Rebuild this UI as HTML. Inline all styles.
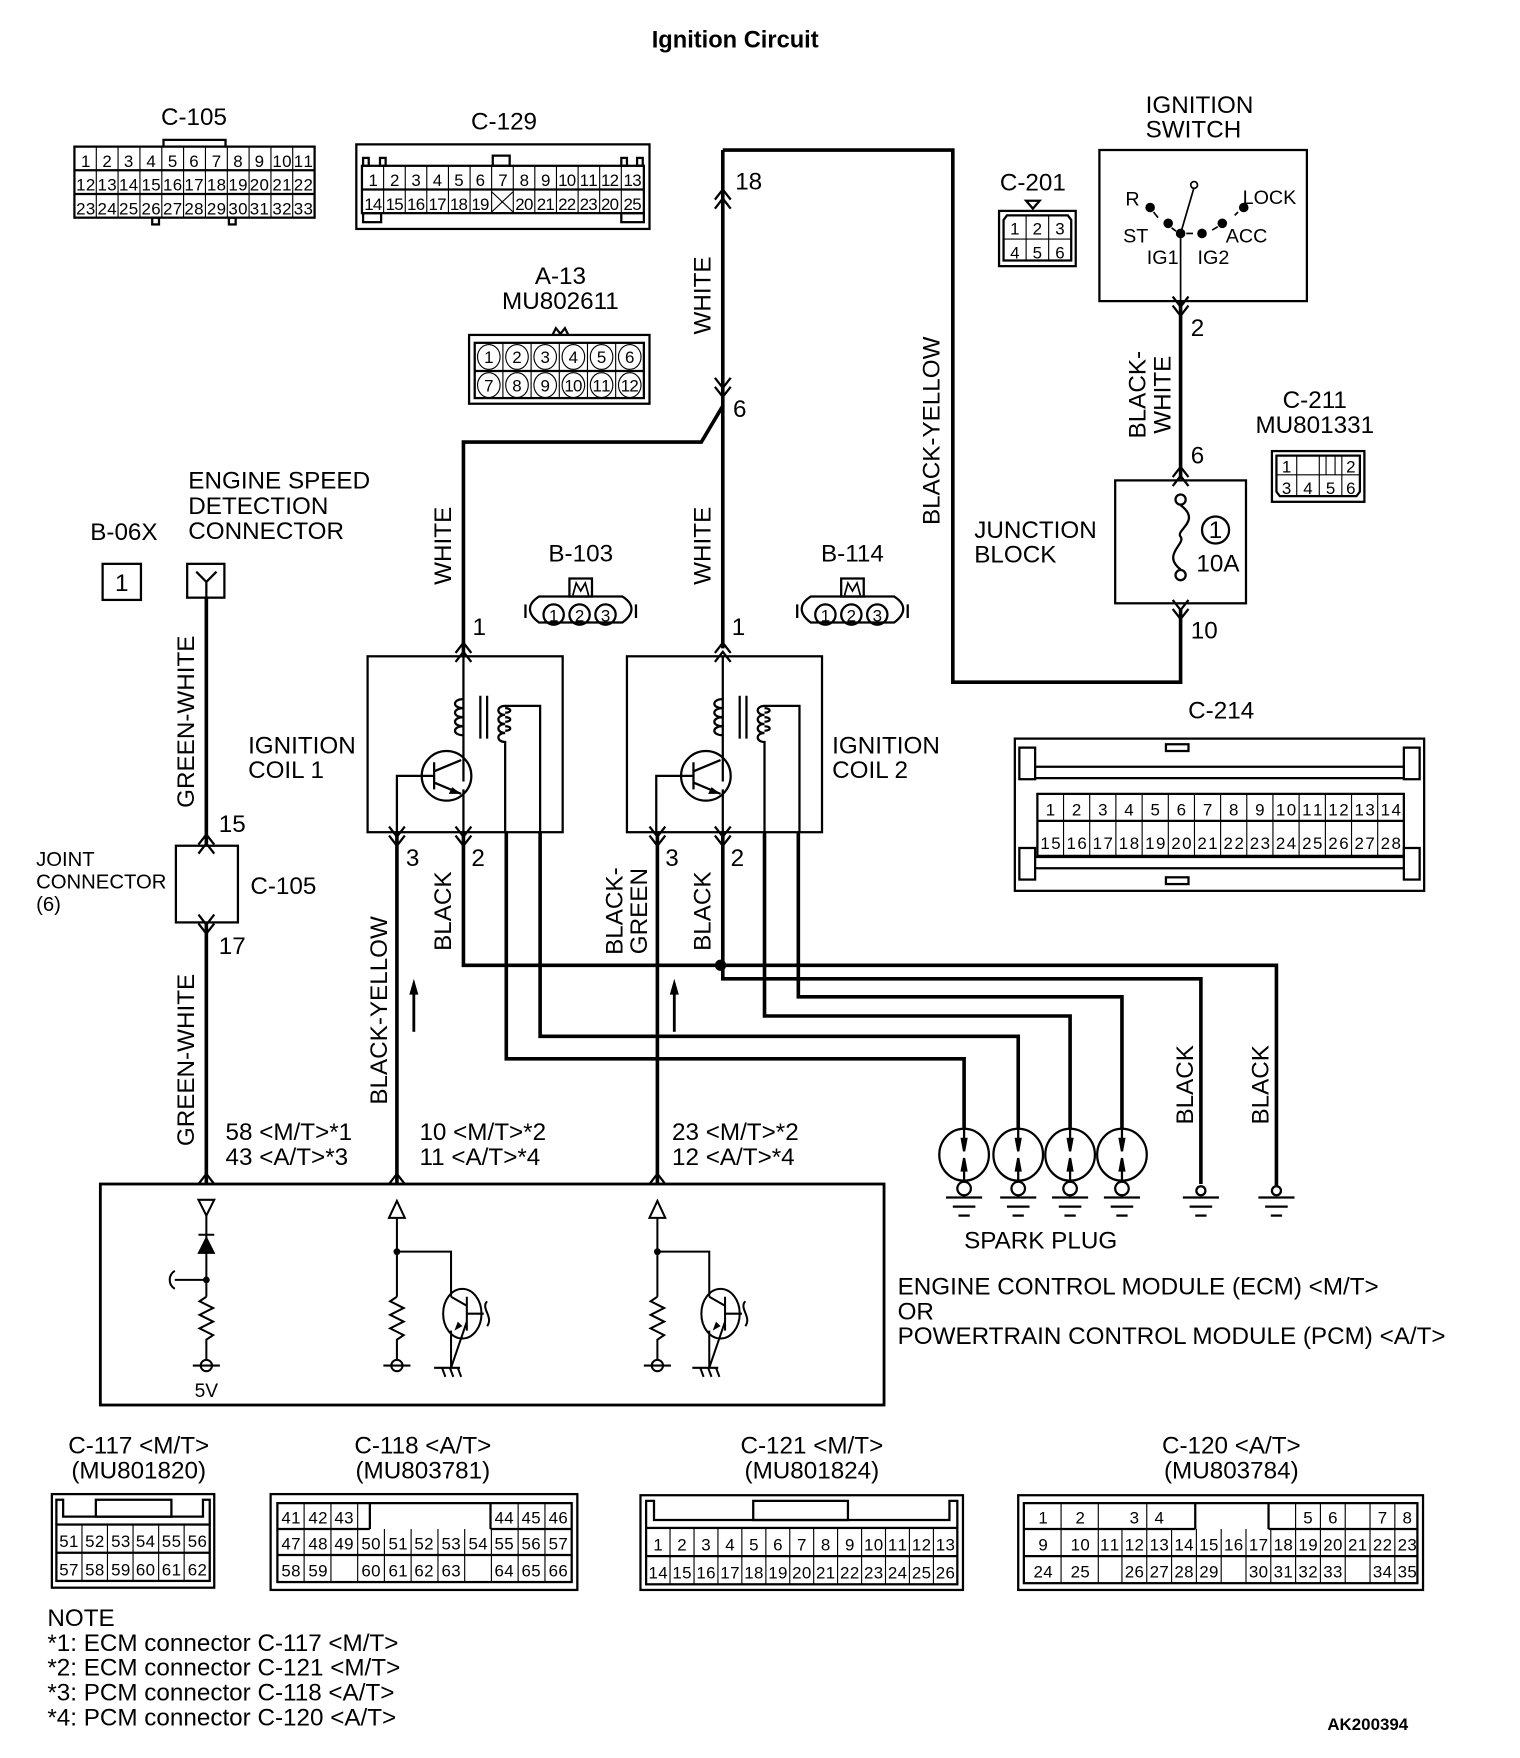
<!DOCTYPE html>
<html><head><meta charset="utf-8"><style>
html,body{margin:0;padding:0;background:#fff;}
svg{display:block;}
text{font-family:"Liberation Sans",Arial,sans-serif;fill:#000;}
.l{font-size:21.5px;}
.n{font-size:15px;text-anchor:middle;}
.s{font-size:17.5px;}
</style></head><body>
<svg width="1520" height="1758" viewBox="0 0 1348 1559" xmlns="http://www.w3.org/2000/svg">
<defs>
<g id="cu" fill="none" stroke="#000" stroke-width="2"><polyline points="-7,9 0,0 7,9"/><polyline points="-7,17 0,8 7,17"/></g>
<g id="cd" fill="none" stroke="#000" stroke-width="2"><polyline points="-7,-9 0,0 7,-9"/><polyline points="-7,-17 0,-8 7,-17"/></g>
<g id="gnd" stroke="#000" stroke-width="2" fill="none"><line x1="-16" y1="0" x2="16" y2="0"/><line x1="-10" y1="8" x2="10" y2="8"/><line x1="-5" y1="16" x2="5" y2="16"/></g>
<g id="plug" stroke="#000" stroke-width="2" fill="#fff"><ellipse cx="0" cy="0" rx="22" ry="23"/><path d="M0,-23 V-5 M0,23 V5" /><path d="M-2,-14 L0,-3 L2,-14Z M-2,14 L0,3 L2,14Z" fill="#000"/><ellipse cx="0" cy="30" rx="6" ry="6"/><line x1="0" y1="36" x2="0" y2="38"/><line x1="-16" y1="38" x2="16" y2="38"/><line x1="-10" y1="46" x2="10" y2="46"/><line x1="-5" y1="54" x2="5" y2="54"/></g>
</defs>

<text x="652" y="42" font-size="21" font-weight="bold" text-anchor="middle">Ignition  Circuit</text>

<!-- C-105 top -->
<text class="l" x="172" y="111" text-anchor="middle">C-105</text>
<g stroke="#000" stroke-width="2" fill="none">
<rect x="66" y="130" width="213" height="63"/>
<path d="M145,130 V124 H200 V130"/>
<rect x="135" y="193" width="6" height="6"/><rect x="203" y="193" width="6" height="6"/>
<line x1="66" y1="151" x2="279" y2="151"/><line x1="66" y1="172" x2="279" y2="172"/>
</g>
<g stroke="#000" stroke-width="1">
<path d="M85.4,130V193M104.7,130V193M124.1,130V193M143.5,130V193M162.8,130V193M182.2,130V193M201.6,130V193M220.9,130V193M240.3,130V193M259.6,130V193"/>
</g>
<g class="n">
<text x="76" y="148">1</text><text x="95" y="148">2</text><text x="114" y="148">3</text><text x="134" y="148">4</text><text x="153" y="148">5</text><text x="172" y="148">6</text><text x="192" y="148">7</text><text x="211" y="148">8</text><text x="230" y="148">9</text><text x="250" y="148" textLength="17">10</text><text x="269" y="148" textLength="17">11</text>
<text x="76" y="169" textLength="17">12</text><text x="95" y="169" textLength="17">13</text><text x="114" y="169" textLength="17">14</text><text x="134" y="169" textLength="17">15</text><text x="153" y="169" textLength="17">16</text><text x="172" y="169" textLength="17">17</text><text x="192" y="169" textLength="17">18</text><text x="211" y="169" textLength="17">19</text><text x="230" y="169" textLength="17">20</text><text x="250" y="169" textLength="17">21</text><text x="269" y="169" textLength="17">22</text>
<text x="76" y="190" textLength="17">23</text><text x="95" y="190" textLength="17">24</text><text x="114" y="190" textLength="17">25</text><text x="134" y="190" textLength="17">26</text><text x="153" y="190" textLength="17">27</text><text x="172" y="190" textLength="17">28</text><text x="192" y="190" textLength="17">29</text><text x="211" y="190" textLength="17">30</text><text x="230" y="190" textLength="17">31</text><text x="250" y="190" textLength="17">32</text><text x="269" y="190" textLength="17">33</text>
</g>

<!-- C-129 -->
<text class="l" x="447" y="115" text-anchor="middle">C-129</text>
<g stroke="#000" stroke-width="2" fill="none">
<rect x="316" y="128" width="260" height="75"/>
<rect x="321" y="147" width="250" height="42"/>
<line x1="321" y1="168" x2="571" y2="168"/>
<rect x="437" y="138" width="15" height="9"/>
<rect x="322" y="189" width="16" height="8"/><rect x="551" y="189" width="20" height="8"/>
<rect x="322" y="140" width="5" height="7"/><rect x="337" y="140" width="5" height="7"/><rect x="551" y="140" width="5" height="7"/><rect x="565" y="140" width="5" height="7"/>
</g>
<g stroke="#000" stroke-width="1">
<path d="M340.2,147V189M359.4,147V189M378.5,147V189M397.7,147V189M416.9,147V189M436,147V189M455.2,147V189M474.3,147V189M493.5,147V189M512.7,147V189M531.8,147V189M551,147V189"/>
<path d="M436,170 L455,188 M455,170 L436,188"/>
</g>
<g class="n">
<text x="331" y="165">1</text><text x="350" y="165">2</text><text x="369" y="165">3</text><text x="388" y="165">4</text><text x="407" y="165">5</text><text x="426" y="165">6</text><text x="446" y="165">7</text><text x="465" y="165">8</text><text x="484" y="165">9</text><text x="503" y="165" textLength="16">10</text><text x="522" y="165" textLength="16">11</text><text x="541" y="165" textLength="16">12</text><text x="561" y="165" textLength="16">13</text>
<text x="331" y="186" textLength="16">14</text><text x="350" y="186" textLength="16">15</text><text x="369" y="186" textLength="16">16</text><text x="388" y="186" textLength="16">17</text><text x="407" y="186" textLength="16">18</text><text x="426" y="186" textLength="16">19</text><text x="465" y="186" textLength="16">20</text><text x="484" y="186" textLength="16">21</text><text x="503" y="186" textLength="16">22</text><text x="522" y="186" textLength="16">23</text><text x="541" y="186" textLength="16">20</text><text x="561" y="186" textLength="16">25</text>
</g>

<!-- A-13 -->
<text class="l" x="497" y="252" text-anchor="middle">A-13</text>
<text class="l" x="497" y="274" text-anchor="middle">MU802611</text>
<g stroke="#000" stroke-width="2" fill="none">
<path d="M490,297 L493,291 L497,296 L501,291 L504,297"/>
<rect x="416" y="297" width="160" height="61"/>
<rect x="421" y="304" width="150" height="49"/>
<line x1="421" y1="329" x2="571" y2="329"/>
</g>
<g stroke="#000" stroke-width="1" fill="none">
<path d="M446,304V353M471,304V353M496,304V353M521,304V353M546,304V353"/>
<ellipse cx="433.5" cy="316.5" rx="10" ry="11"/><ellipse cx="458.5" cy="316.5" rx="10" ry="11"/><ellipse cx="483.5" cy="316.5" rx="10" ry="11"/><ellipse cx="508.5" cy="316.5" rx="10" ry="11"/><ellipse cx="533.5" cy="316.5" rx="10" ry="11"/><ellipse cx="558.5" cy="316.5" rx="10" ry="11"/>
<ellipse cx="433.5" cy="341.5" rx="10" ry="11"/><ellipse cx="458.5" cy="341.5" rx="10" ry="11"/><ellipse cx="483.5" cy="341.5" rx="10" ry="11"/><ellipse cx="508.5" cy="341.5" rx="10" ry="11"/><ellipse cx="533.5" cy="341.5" rx="10" ry="11"/><ellipse cx="558.5" cy="341.5" rx="10" ry="11"/>
</g>
<g class="n" font-size="17">
<text x="433.5" y="322">1</text><text x="458.5" y="322">2</text><text x="483.5" y="322">3</text><text x="508.5" y="322">4</text><text x="533.5" y="322">5</text><text x="558.5" y="322">6</text>
<text x="433.5" y="347">7</text><text x="458.5" y="347">8</text><text x="483.5" y="347">9</text><text x="508.5" y="347" textLength="16">10</text><text x="533.5" y="347" textLength="16">11</text><text x="558.5" y="347" textLength="16">12</text>
</g>

<!-- main wires -->
<g stroke="#000" stroke-width="3.2" fill="none">
<path d="M641,133 H845 V605 H1047 V540"/>
<path d="M641,133 V575"/>
<path d="M641,360 L622,392 H411 V582"/>
<path d="M1047,267 V425"/>
<path d="M411,738 V856 H1132 V1058"/>
<path d="M352,738 V1050"/>
<path d="M449,738 V939 H855 V1001"/>
<path d="M479,738 V919 H903 V1001"/>
<path d="M641,738 V868 H1065 V1050"/>
<path d="M583,738 V1050"/>
<path d="M678,738 V901 H949 V1001"/>
<path d="M708,738 V884 H995 V1001"/>
<path d="M183,530 V750 M183,818 V1050"/>
</g>
<circle cx="639" cy="856" r="5" fill="#000"/>
<use href="#cu" x="641" y="168"/>
<use href="#cd" x="641" y="352"/>
<use href="#cd" x="1047" y="280"/>
<use href="#cu" x="1047" y="414"/>
<use href="#cd" x="1047" y="549"/>
<text class="l" x="652" y="168">18</text>
<text class="l" x="650" y="370">6</text>
<text class="l" x="1056" y="298">2</text>
<text class="l" x="1056" y="411">6</text>
<text class="l" x="1056" y="566">10</text>
<text class="l" transform="translate(630,262) rotate(-90)" text-anchor="middle">WHITE</text>
<text class="l" transform="translate(833,382) rotate(-90)" text-anchor="middle">BLACK-YELLOW</text>
<text class="l" transform="translate(1016,350) rotate(-90)" text-anchor="middle">BLACK-</text>
<text class="l" transform="translate(1038,350) rotate(-90)" text-anchor="middle">WHITE</text>
<text class="l" transform="translate(400,484) rotate(-90)" text-anchor="middle">WHITE</text>
<text class="l" transform="translate(630,484) rotate(-90)" text-anchor="middle">WHITE</text>

<!-- ignition switch -->
<text class="l" x="1016" y="100">IGNITION</text>
<text class="l" x="1016" y="122">SWITCH</text>
<rect x="975" y="133" width="184" height="134" stroke="#000" stroke-width="2" fill="none"/>
<g fill="#000" stroke="#000" stroke-width="1.5">
<circle cx="1020" cy="184" r="3.5"/><circle cx="1036" cy="198" r="3.5"/><circle cx="1047" cy="207" r="3.5"/><circle cx="1066" cy="207" r="3.5"/><circle cx="1084" cy="198" r="3.5"/><circle cx="1103" cy="184" r="3.5"/>
<line x1="1023" y1="188" x2="1027" y2="193"/><line x1="1039" y1="202" x2="1043" y2="205"/><line x1="1052" y1="207" x2="1058" y2="207"/><line x1="1075" y1="204" x2="1080" y2="201"/><line x1="1095" y1="191" x2="1098" y2="188"/>
<line x1="1047" y1="207" x2="1059" y2="166"/><line x1="1047" y1="207" x2="1047" y2="267"/>
<circle cx="1059" cy="164" r="3" fill="#fff"/>
</g>
<g class="s">
<text x="998" y="182">R</text><text x="1102" y="181">LOCK</text><text x="996" y="215">ST</text><text x="1087" y="215">ACC</text><text x="1017" y="234">IG1</text><text x="1062" y="234">IG2</text>
</g>

<!-- C-201 -->
<text class="l" x="916" y="169" text-anchor="middle">C-201</text>
<g stroke="#000" stroke-width="2" fill="none">
<rect x="886" y="187" width="68" height="49"/>
<path d="M890,195 L893,191 H947 L950,195 V231 H890 Z"/>
<path d="M910,178 L916,185 L922,178 Z"/>
</g>
<g stroke="#000" stroke-width="1"><path d="M890,212H950M910,191V231M930,191V231"/></g>
<g class="n" font-size="17"><text x="900" y="208">1</text><text x="920" y="208">2</text><text x="940" y="208">3</text><text x="900" y="229">4</text><text x="920" y="229">5</text><text x="940" y="229">6</text></g>

<!-- C-211 -->
<text class="l" x="1166" y="362" text-anchor="middle">C-211</text>
<text class="l" x="1166" y="384" text-anchor="middle">MU801331</text>
<g stroke="#000" stroke-width="2" fill="none">
<rect x="1128" y="400" width="82" height="45"/>
<path d="M1132,404 H1206 V436 L1203,440 H1135 L1132,436 Z"/>
</g>
<g stroke="#000" stroke-width="1" fill="none"><path d="M1132,421H1206M1150,404V440M1170,412V440M1190,404V440M1170,412V404M1176,404V421M1184,404V421"/></g>
<g class="n" font-size="17"><text x="1141" y="419">1</text><text x="1198" y="419">2</text><text x="1141" y="438">3</text><text x="1160" y="438">4</text><text x="1180" y="438">5</text><text x="1198" y="438">6</text></g>

<!-- junction block -->
<text class="l" x="864" y="477">JUNCTION</text>
<text class="l" x="864" y="499">BLOCK</text>
<rect x="989" y="426" width="116" height="109" stroke="#000" stroke-width="2" fill="none"/>
<g stroke="#000" stroke-width="2" fill="none">
<circle cx="1047" cy="443" r="4.5"/><circle cx="1047" cy="510" r="4.5"/>
<path d="M1047,448 C1066,462 1042,470 1047,476 C1052,482 1030,492 1047,505"/>
<circle cx="1078" cy="470" r="12"/>
</g>
<text class="l" x="1078" y="477" text-anchor="middle">1</text>
<text class="l" x="1061" y="507">10A</text>

<!-- C-214 -->
<text class="l" x="1083" y="637" text-anchor="middle">C-214</text>
<g stroke="#000" stroke-width="2" fill="none">
<rect x="900" y="655" width="363" height="135"/>
<rect x="904" y="663" width="14" height="28"/><rect x="1245" y="663" width="14" height="28"/>
<rect x="904" y="752" width="14" height="28"/><rect x="1245" y="752" width="14" height="28"/>
<path d="M918,680 H1245 M918,690 H1245 M918,760 H1245 M918,770 H1245"/>
<rect x="1034" y="660" width="20" height="6"/><rect x="1034" y="778" width="20" height="6"/>
<rect x="920" y="704" width="325" height="55"/>
<line x1="920" y1="728" x2="1245" y2="728"/>
</g>
<g stroke="#000" stroke-width="1"><path d="M943.2,704V759M966.4,704V759M989.6,704V759M1012.9,704V759M1036.1,704V759M1059.3,704V759M1082.5,704V759M1105.7,704V759M1128.9,704V759M1152.1,704V759M1175.4,704V759M1198.6,704V759M1221.8,704V759"/></g>
<g class="n" font-size="17">
<text x="931.6" y="723">1</text><text x="954.8" y="723">2</text><text x="978" y="723">3</text><text x="1001.2" y="723">4</text><text x="1024.5" y="723">5</text><text x="1047.7" y="723">6</text><text x="1070.9" y="723">7</text><text x="1094.1" y="723">8</text><text x="1117.3" y="723">9</text><text x="1140.5" y="723" textLength="18">10</text><text x="1163.8" y="723" textLength="18">11</text><text x="1187" y="723" textLength="18">12</text><text x="1210.2" y="723" textLength="18">13</text><text x="1233.4" y="723" textLength="18">14</text>
<text x="931.6" y="753" textLength="18">15</text><text x="954.8" y="753" textLength="18">16</text><text x="978" y="753" textLength="18">17</text><text x="1001.2" y="753" textLength="18">18</text><text x="1024.5" y="753" textLength="18">19</text><text x="1047.7" y="753" textLength="18">20</text><text x="1070.9" y="753" textLength="18">21</text><text x="1094.1" y="753" textLength="18">22</text><text x="1117.3" y="753" textLength="18">23</text><text x="1140.5" y="753" textLength="18">24</text><text x="1163.8" y="753" textLength="18">25</text><text x="1187" y="753" textLength="18">26</text><text x="1210.2" y="753" textLength="18">27</text><text x="1233.4" y="753" textLength="18">28</text>
</g>

<!-- B-06X / engine speed -->
<text class="l" x="80" y="479">B-06X</text>
<rect x="91" y="500" width="34" height="32" stroke="#000" stroke-width="2" fill="none"/>
<text class="l" x="108" y="524" text-anchor="middle">1</text>
<text class="l" x="167" y="433">ENGINE SPEED</text>
<text class="l" x="167" y="456">DETECTION</text>
<text class="l" x="167" y="478">CONNECTOR</text>
<rect x="166" y="500" width="33" height="30" stroke="#000" stroke-width="2" fill="none"/>
<path d="M174,507 L183,516 L192,507 M183,516 V530" stroke="#000" stroke-width="2" fill="none"/>
<text class="l" transform="translate(172,640) rotate(-90)" text-anchor="middle">GREEN-WHITE</text>
<text class="l" transform="translate(172,940) rotate(-90)" text-anchor="middle">GREEN-WHITE</text>
<use href="#cu" x="183" y="740"/>
<use href="#cd" x="183" y="828"/>
<rect x="156" y="750" width="55" height="68" stroke="#000" stroke-width="2" fill="none"/>
<text class="l" x="194" y="738">15</text>
<text class="l" x="194" y="846">17</text>
<text class="l" x="222" y="793">C-105</text>
<text x="32" y="768" font-size="18">JOINT</text>
<text x="32" y="788" font-size="18">CONNECTOR</text>
<text x="32" y="808" font-size="18">(6)</text>

<!-- coils -->
<g stroke="#000" stroke-width="2" fill="none">
<rect x="326" y="582" width="173" height="156"/>
<rect x="556" y="582" width="173" height="156"/>
</g>
<text class="l" x="220" y="668">IGNITION</text><text class="l" x="220" y="690">COIL 1</text>
<text class="l" x="738" y="668">IGNITION</text><text class="l" x="738" y="690">COIL 2</text>

<g id="coilin" stroke="#000" stroke-width="2" fill="none">
<path d="M411,582 V693 M411,700 V738"/>
<path d="M411,620 c-10,0 -10,8 0,8 c-10,0 -10,8 0,8 c-10,0 -10,8 0,8 c-10,0 -10,8 0,8"/>
<path d="M426,617 V655 M432,617 V655"/>
<path d="M448,738 V658 c-8,0 -8,-8 0,-8 c-8,0 -8,-8 0,-8 c-8,0 -8,-8 0,-8 c-8,0 -8,-8 0,-8 H479 V738"/>
<path d="M448,628 c6,0 6,4 0,4 M448,636 c6,0 6,4 0,4 M448,644 c6,0 6,4 0,4"/>
<circle cx="396" cy="688" r="22"/>
<path d="M385,676 V700 M385,684 L409,674 M385,694 L409,704"/>
<path d="M385,688 H352 V738"/>
</g>
<path d="M409,704 L401,698 L398,704 Z" fill="#000"/>
<use href="#coilin" x="230" y="0"/>
<path d="M639,704 L631,698 L628,704 Z" fill="#000"/>
<use href="#cu" x="411" y="570"/><use href="#cu" x="641" y="570"/>
<use href="#cd" x="352" y="750"/><use href="#cd" x="411" y="750"/>
<use href="#cd" x="583" y="750"/><use href="#cd" x="641" y="750"/>
<text class="l" x="419" y="563">1</text><text class="l" x="649" y="563">1</text>
<text class="l" x="360" y="768">3</text><text class="l" x="418" y="768">2</text>
<text class="l" x="590" y="768">3</text><text class="l" x="648" y="768">2</text>

<!-- B-103 / B-114 -->
<text class="l" x="515" y="498" text-anchor="middle">B-103</text>
<text class="l" x="756" y="498" text-anchor="middle">B-114</text>
<g id="b3" stroke="#000" stroke-width="2" fill="none">
<rect x="505" y="513" width="20" height="16"/>
<path d="M508,528 L511,517 L515,524 L519,517 L522,528" stroke-width="1.5"/>
<path d="M478,529 H552 Q560,534 560,540 Q560,546 552,552 H478 Q470,546 470,540 Q470,534 478,529 Z"/>
<circle cx="491" cy="545" r="9"/><circle cx="514" cy="545" r="9"/><circle cx="537" cy="545" r="9"/>
<path d="M466,536 V548 M564,536 V548"/>
</g>
<use href="#b3" x="241" y="0"/>
<g class="n" font-size="17"><text x="491" y="551">1</text><text x="514" y="551">2</text><text x="537" y="551">3</text><text x="732" y="551">1</text><text x="755" y="551">2</text><text x="778" y="551">3</text></g>

<!-- lower wire labels -->
<text class="l" transform="translate(400,808) rotate(-90)" text-anchor="middle">BLACK</text>
<text class="l" transform="translate(630,808) rotate(-90)" text-anchor="middle">BLACK</text>
<text class="l" transform="translate(552,808) rotate(-90)" text-anchor="middle">BLACK-</text>
<text class="l" transform="translate(574,808) rotate(-90)" text-anchor="middle">GREEN</text>
<text class="l" transform="translate(343,896) rotate(-90)" text-anchor="middle">BLACK-YELLOW</text>
<text class="l" transform="translate(1058,962) rotate(-90)" text-anchor="middle">BLACK</text>
<text class="l" transform="translate(1125,962) rotate(-90)" text-anchor="middle">BLACK</text>
<g stroke="#000" stroke-width="2.5"><line x1="367" y1="915" x2="367" y2="880"/><line x1="598" y1="915" x2="598" y2="880"/></g>
<path d="M363,882 L367,868 L371,882 Z M594,882 L598,868 L602,882 Z" fill="#000"/>

<!-- spark plugs & grounds -->
<use href="#plug" x="855" y="1024"/><use href="#plug" x="903" y="1024"/><use href="#plug" x="949" y="1024"/><use href="#plug" x="995" y="1024"/>
<g stroke="#000" stroke-width="2" fill="#fff"><circle cx="1065" cy="1056" r="4"/><circle cx="1132" cy="1056" r="4"/></g>
<use href="#gnd" x="1065" y="1062"/><use href="#gnd" x="1132" y="1062"/>
<text class="l" x="855" y="1107">SPARK PLUG</text>

<!-- ECM -->
<text class="l" x="200" y="1011">58 &lt;M/T&gt;*1</text><text class="l" x="200" y="1033">43 &lt;A/T&gt;*3</text>
<text class="l" x="372" y="1011">10 &lt;M/T&gt;*2</text><text class="l" x="372" y="1033">11 &lt;A/T&gt;*4</text>
<text class="l" x="596" y="1011">23 &lt;M/T&gt;*2</text><text class="l" x="596" y="1033">12 &lt;A/T&gt;*4</text>
<g stroke="#000" stroke-width="2" fill="none">
<polyline points="176,1050 183,1041 190,1050"/><polyline points="345,1050 352,1041 359,1050"/><polyline points="576,1050 583,1041 590,1050"/>
<rect x="89" y="1050" width="695" height="196" stroke-width="2.5"/>
</g>
<text class="l" x="796" y="1148">ENGINE CONTROL MODULE (ECM) &lt;M/T&gt;</text>
<text class="l" x="796" y="1170">OR</text>
<text class="l" x="796" y="1192">POWERTRAIN CONTROL MODULE (PCM) &lt;A/T&gt;</text>

<g stroke="#000" stroke-width="1.8" fill="none">
<path d="M176,1064 H190 L183,1078 Z"/>
<path d="M183,1078 V1150 M176,1095 H190"/>
<path d="M183,1150 l-6,4 l12,6 l-12,6 l12,6 l-12,6 l12,6 l-6,4 V1206"/>
<circle cx="183" cy="1211" r="5"/><path d="M171,1211 H195"/>
<path d="M183,1135 H155 M155,1127 c-6,4 -6,12 0,16"/>
<path d="M345,1080 L352,1065 L359,1080 Z"/>
<path d="M352,1080 V1150 M352,1110 H400 V1150"/>
<path d="M352,1150 l-6,4 l12,6 l-12,6 l12,6 l-12,6 l12,6 l-6,4 V1206"/>
<circle cx="352" cy="1211" r="5"/><path d="M340,1211 H364"/>
<ellipse cx="410" cy="1165" rx="17" ry="22"/>
<path d="M400,1150 L414,1158 M414,1150 V1180 M414,1165 H429 M400,1180 V1213 L414,1172"/>
<path d="M432,1154 c-6,6 6,14 0,22"/>
<path d="M385,1213 H408 M392,1213 l3,8 M399,1213 l3,8 M406,1213 l3,8"/>
<path d="M576,1080 L583,1065 L590,1080 Z"/>
<path d="M583,1080 V1150 M583,1110 H629 V1150"/>
<path d="M583,1150 l-6,4 l12,6 l-12,6 l12,6 l-12,6 l12,6 l-6,4 V1206"/>
<circle cx="583" cy="1211" r="5"/><path d="M571,1211 H595"/>
<ellipse cx="639" cy="1165" rx="17" ry="22"/>
<path d="M629,1150 L643,1158 M643,1150 V1180 M643,1165 H658 M629,1180 V1213 L643,1172"/>
<path d="M661,1154 c-6,6 6,14 0,22"/>
<path d="M614,1213 H637 M621,1213 l3,8 M628,1213 l3,8 M635,1213 l3,8"/>
</g>
<g fill="#000"><path d="M175,1112 H191 L183,1096 Z"/><circle cx="183" cy="1135" r="3"/><circle cx="352" cy="1110" r="3"/><circle cx="583" cy="1110" r="3"/>
<path d="M403,1180 L410,1176 L406,1172 Z M632,1180 L639,1176 L635,1172 Z"/></g>
<text x="183" y="1239" font-size="17" text-anchor="middle">5V</text>

<!-- bottom connectors -->
<text class="l" x="123" y="1289" text-anchor="middle">C-117 &lt;M/T&gt;</text>
<text class="l" x="123" y="1311" text-anchor="middle">(MU801820)</text>
<g stroke="#000" stroke-width="2" fill="none">
<rect x="46" y="1325" width="144" height="83"/>
<path d="M50,1352 V1330 H56 V1345 H180 V1330 H186 V1352"/>
<rect x="85" y="1330" width="67" height="15"/>
<rect x="50" y="1352" width="136" height="50"/><line x1="50" y1="1377" x2="186" y2="1377"/>
</g>
<g stroke="#000" stroke-width="1"><path d="M72.7,1352V1402M95.3,1352V1402M118,1352V1402M140.7,1352V1402M163.3,1352V1402"/></g>
<g class="n" font-size="16">
<text x="61" y="1372" textLength="17">51</text><text x="84" y="1372" textLength="17">52</text><text x="107" y="1372" textLength="17">53</text><text x="129" y="1372" textLength="17">54</text><text x="152" y="1372" textLength="17">55</text><text x="175" y="1372" textLength="17">56</text>
<text x="61" y="1397" textLength="17">57</text><text x="84" y="1397" textLength="17">58</text><text x="107" y="1397" textLength="17">59</text><text x="129" y="1397" textLength="17">60</text><text x="152" y="1397" textLength="17">61</text><text x="175" y="1397" textLength="17">62</text>
</g>

<text class="l" x="375" y="1289" text-anchor="middle">C-118 &lt;A/T&gt;</text>
<text class="l" x="375" y="1311" text-anchor="middle">(MU803781)</text>
<g stroke="#000" stroke-width="2" fill="none">
<rect x="240" y="1325" width="272" height="85"/>
<rect x="246" y="1333" width="261" height="70"/>
<path d="M246,1356 H328 M435,1356 H507 M246,1379 H507"/>
<path d="M328,1333 V1356 M435,1333 V1356"/>
</g>
<g stroke="#000" stroke-width="1"><path d="M269.7,1333V1403M293.5,1333V1403M317.2,1333V1403M340.9,1356V1403M364.6,1356V1403M388.4,1356V1403M412.1,1356V1403M435.8,1356V1403M459.5,1333V1403M483.3,1333V1403"/></g>
<g class="n" font-size="16">
<text x="258" y="1351" textLength="17">41</text><text x="282" y="1351" textLength="17">42</text><text x="305" y="1351" textLength="17">43</text><text x="447" y="1351" textLength="17">44</text><text x="471" y="1351" textLength="17">45</text><text x="495" y="1351" textLength="17">46</text>
<text x="258" y="1374" textLength="17">47</text><text x="282" y="1374" textLength="17">48</text><text x="305" y="1374" textLength="17">49</text><text x="329" y="1374" textLength="17">50</text><text x="353" y="1374" textLength="17">51</text><text x="376" y="1374" textLength="17">52</text><text x="400" y="1374" textLength="17">53</text><text x="424" y="1374" textLength="17">54</text><text x="447" y="1374" textLength="17">55</text><text x="471" y="1374" textLength="17">56</text><text x="495" y="1374" textLength="17">57</text>
<text x="258" y="1398" textLength="17">58</text><text x="282" y="1398" textLength="17">59</text><text x="329" y="1398" textLength="17">60</text><text x="353" y="1398" textLength="17">61</text><text x="376" y="1398" textLength="17">62</text><text x="400" y="1398" textLength="17">63</text><text x="447" y="1398" textLength="17">64</text><text x="471" y="1398" textLength="17">65</text><text x="495" y="1398" textLength="17">66</text>
</g>

<text class="l" x="720" y="1289" text-anchor="middle">C-121 &lt;M/T&gt;</text>
<text class="l" x="720" y="1311" text-anchor="middle">(MU801824)</text>
<g stroke="#000" stroke-width="2" fill="none">
<rect x="568" y="1326" width="286" height="84"/>
<path d="M573,1355 V1331 H580 V1348 H842 V1331 H849 V1355"/>
<rect x="668" y="1331" width="84" height="17"/>
<rect x="573" y="1355" width="276" height="50"/><line x1="573" y1="1380" x2="849" y2="1380"/>
</g>
<g stroke="#000" stroke-width="1"><path d="M594.2,1355V1405M615.5,1355V1405M636.7,1355V1405M657.9,1355V1405M679.2,1355V1405M700.4,1355V1405M721.6,1355V1405M742.8,1355V1405M764.1,1355V1405M785.3,1355V1405M806.5,1355V1405M827.8,1355V1405"/></g>
<g class="n" font-size="17">
<text x="583.6" y="1375">1</text><text x="604.8" y="1375">2</text><text x="626.1" y="1375">3</text><text x="647.3" y="1375">4</text><text x="668.5" y="1375">5</text><text x="689.8" y="1375">6</text><text x="711" y="1375">7</text><text x="732.2" y="1375">8</text><text x="753.5" y="1375">9</text><text x="774.7" y="1375" textLength="17">10</text><text x="795.9" y="1375" textLength="17">11</text><text x="817.2" y="1375" textLength="17">12</text><text x="838.4" y="1375" textLength="17">13</text>
<text x="583.6" y="1400" textLength="17">14</text><text x="604.8" y="1400" textLength="17">15</text><text x="626.1" y="1400" textLength="17">16</text><text x="647.3" y="1400" textLength="17">17</text><text x="668.5" y="1400" textLength="17">18</text><text x="689.8" y="1400" textLength="17">19</text><text x="711" y="1400" textLength="17">20</text><text x="732.2" y="1400" textLength="17">21</text><text x="753.5" y="1400" textLength="17">22</text><text x="774.7" y="1400" textLength="17">23</text><text x="795.9" y="1400" textLength="17">24</text><text x="817.2" y="1400" textLength="17">25</text><text x="838.4" y="1400" textLength="17">26</text>
</g>

<text class="l" x="1092" y="1289" text-anchor="middle">C-120 &lt;A/T&gt;</text>
<text class="l" x="1092" y="1311" text-anchor="middle">(MU803784)</text>
<g stroke="#000" stroke-width="2" fill="none">
<rect x="903" y="1326" width="359" height="84"/>
<rect x="908" y="1333" width="349" height="71"/>
<path d="M908,1356 H1060 M1125,1356 H1257 M908,1380 H1257 M1060,1333 V1356 M1125,1333 V1356"/>
</g>
<g stroke="#000" stroke-width="1"><path d="M941,1333V1404M974,1333V1356M974,1356V1404M995,1356V1404M1017,1333V1404M1039,1356V1404M1061,1356V1404M1083,1356V1404M1105,1356V1404M1127,1356V1404M1149,1333V1404M1171,1333V1404M1193,1333V1404M1215,1333V1404M1237,1333V1404"/></g>
<g class="n" font-size="17">
<text x="925" y="1351">1</text><text x="958" y="1351">2</text><text x="1006" y="1351">3</text><text x="1028" y="1351">4</text><text x="1160" y="1351">5</text><text x="1182" y="1351">6</text><text x="1226" y="1351">7</text><text x="1248" y="1351">8</text>
<text x="925" y="1375">9</text><text x="958" y="1375" textLength="17">10</text><text x="984" y="1375" textLength="17">11</text><text x="1006" y="1375" textLength="17">12</text><text x="1028" y="1375" textLength="17">13</text><text x="1050" y="1375" textLength="17">14</text><text x="1072" y="1375" textLength="17">15</text><text x="1094" y="1375" textLength="17">16</text><text x="1116" y="1375" textLength="17">17</text><text x="1138" y="1375" textLength="17">18</text><text x="1160" y="1375" textLength="17">19</text><text x="1182" y="1375" textLength="17">20</text><text x="1204" y="1375" textLength="17">21</text><text x="1226" y="1375" textLength="17">22</text><text x="1248" y="1375" textLength="17">23</text>
<text x="925" y="1399" textLength="17">24</text><text x="958" y="1399" textLength="17">25</text><text x="1006" y="1399" textLength="17">26</text><text x="1028" y="1399" textLength="17">27</text><text x="1050" y="1399" textLength="17">28</text><text x="1072" y="1399" textLength="17">29</text><text x="1116" y="1399" textLength="17">30</text><text x="1138" y="1399" textLength="17">31</text><text x="1160" y="1399" textLength="17">32</text><text x="1182" y="1399" textLength="17">33</text><text x="1226" y="1399" textLength="17">34</text><text x="1248" y="1399" textLength="17">35</text>
</g>

<!-- notes -->
<text class="l" x="42" y="1442">NOTE</text>
<text class="l" x="42" y="1464">*1: ECM connector C-117 &lt;M/T&gt;</text>
<text class="l" x="42" y="1486">*2: ECM connector C-121 &lt;M/T&gt;</text>
<text class="l" x="42" y="1508">*3: PCM connector C-118 &lt;A/T&gt;</text>
<text class="l" x="42" y="1530">*4: PCM connector C-120 &lt;A/T&gt;</text>
<text x="1213" y="1534" font-size="15" font-weight="bold" text-anchor="middle">AK200394</text>
</svg>
</body></html>
